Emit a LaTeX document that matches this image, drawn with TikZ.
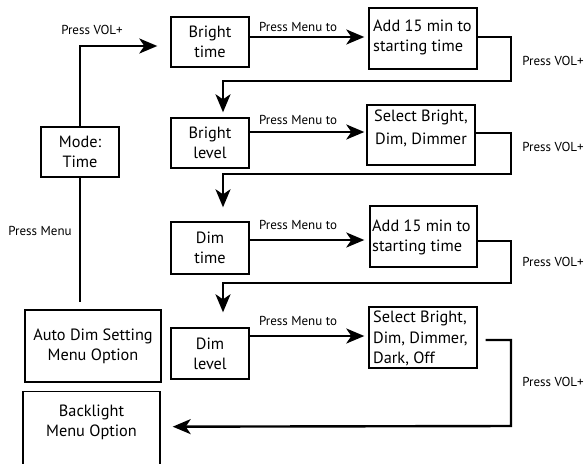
\documentclass[tikz,border=0pt]{standalone}
\usepackage{fontspec}
\setmainfont{PT Sans}
\usetikzlibrary{arrows.meta}
\begin{document}
\begin{tikzpicture}[x=1pt,y=-1pt,
  box/.style={draw, line width=1.4pt, inner sep=0pt, align=center, font=\fontsize{16.3}{20}\selectfont},
  txt/.style={inner sep=0pt, align=center, font=\fontsize{16.3}{20}\selectfont},
  lbl/.style={inner sep=0pt, font=\fontsize{13}{14}\selectfont},
  conn/.style={line width=2.4pt, -{Stealth[length=18pt,width=15pt,inset=5pt]}},
  plain/.style={line width=2.4pt},
]
\useasboundingbox (0,0) rectangle (585,463);

% left column
\node[box, minimum width=78pt, minimum height=50pt] (mode) at (80,152) {Mode:\\Time};
\node[box, minimum width=136pt, minimum height=72pt] (auto) at (93,346) {Auto Dim Setting\\Menu Option};
\begin{scope}
\clip (0,0) rectangle (585,463);
\node[box, minimum width=137pt, minimum height=90pt, anchor=north] (back) at (91.5,391) {};
\end{scope}
\node[txt] (backt) at (91.5,422) {Backlight\\Menu Option};

% middle column
\node[box, minimum width=78pt, minimum height=50pt] (bt) at (210,42) {Bright\\time};
\node[box, minimum width=78pt, minimum height=50pt] (bl) at (210,143) {Bright\\level};
\node[box, minimum width=78pt, minimum height=52pt] (dt) at (210,248) {Dim\\time};
\node[box, minimum width=78pt, minimum height=51pt] (dl) at (210,353.5) {Dim\\level};

% right column
\node[box, minimum width=108pt, minimum height=61pt] (a1) at (423,38.5) {};
\node[txt, align=left, anchor=west] (a1t) at (373,37) {Add 15 min to\\starting time};
\node[box, minimum width=108pt, minimum height=60pt] (s2) at (421,135) {};
\node[txt, font=\fontsize{16.3}{22.5}\selectfont] (s2t) at (421,128.5) {Select Bright,\\Dim, Dimmer};
\node[box, minimum width=107pt, minimum height=61pt] (a3) at (423.5,236.5) {};
\node[txt, align=left, anchor=west] (a3t) at (372,237) {Add 15 min to\\starting time};
\node[box, minimum width=108pt, minimum height=61pt] (s4) at (423,337.5) {};
\node[txt, align=left, anchor=west, font=\fontsize{16.3}{20.5}\selectfont] (s4t) at (373,338.5) {Select Bright,\\Dim, Dimmer,\\Dark, Off};

% mode connectors
\draw[conn, shorten >=13pt] (mode.north) -- (80,46) -- ([yshift=-4pt]bt.west);
\draw[plain, shorten >=7pt] (mode.south) -- (mode.south |- auto.north);
\node[lbl] (l0) at (92,30) {Press VOL+};
\node[lbl] (lm) at (40,231) {Press Menu};

% row arrows
\draw[conn, shorten >=4pt] ([yshift=5pt]bt.east) -- ([yshift=1.5pt]a1.west);
\draw[conn, shorten >=2pt] ([yshift=11pt]bl.east) -- ([yshift=3pt]s2.west);
\draw[conn, shorten >=5pt] ([yshift=8pt]dt.east) -- ([yshift=-3.5pt]a3.west);
\draw[conn, shorten >=4pt] ([yshift=17.5pt]dl.east) -- ([yshift=1.5pt]s4.west);
\node[lbl] (r1) at (298,27) {Press Menu to};
\node[lbl] (r2) at (298,120) {Press Menu to};
\node[lbl] (r3) at (298,225) {Press Menu to};
\node[lbl] (r4) at (298,321) {Press Menu to};

% feedback connectors
\draw[conn, shorten >=5pt] ([yshift=1.5pt]a1.east) -- (511,37) -- (511,81) -- (223,81) -- ([xshift=13pt]bl.north);
\draw[conn, shorten >=14pt] ([yshift=2pt]s2.east) -- (511,133) -- (511,174) -- (223,174) -- ([xshift=13pt]dt.north);
\draw[conn, shorten >=15pt] ([yshift=-4.5pt]a3.east) -- (511,241) -- (511,283) -- (223,283) -- ([xshift=13pt]dl.north);
\draw[conn, shorten >=12pt] ([xshift=8pt,yshift=-2.5pt]s4.east) -- (511,340) -- (511,426) -- ([yshift=10pt]back.east);
\node[lbl] (v1) at (553,61) {Press VOL+};
\node[lbl] (v2) at (553,147) {Press VOL+};
\node[lbl] (v3) at (553,262) {Press VOL+};
\node[lbl] (v4) at (553,382) {Press VOL+};
\end{tikzpicture}
\end{document}
